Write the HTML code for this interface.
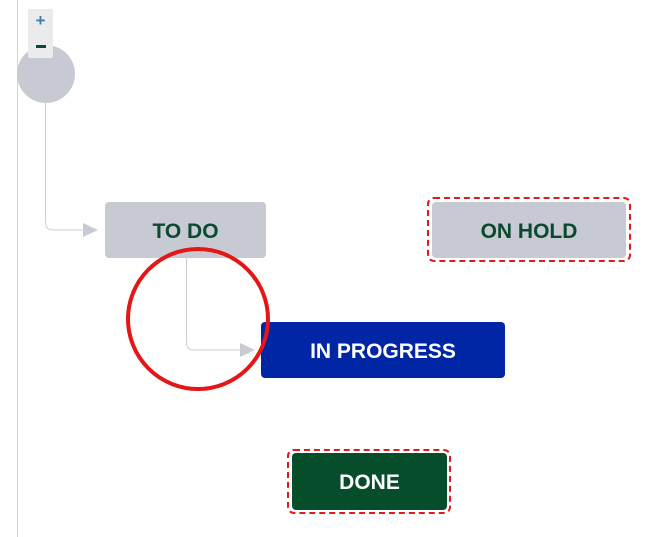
<!DOCTYPE html>
<html><head><style>
body{margin:0;width:652px;height:537px;background:#fff;overflow:hidden;position:relative;font-family:"Liberation Sans",Arial,sans-serif}
.n{position:absolute;display:flex;align-items:center;justify-content:center;font-weight:bold;font-size:21px;border-radius:4px;padding-top:3px;box-sizing:border-box}
.d{position:absolute;border:2px dashed #e01b1b;border-radius:7px}
</style></head><body>
<svg width="652" height="537" style="position:absolute;left:0;top:0">
<line x1="17.5" y1="0" x2="17.5" y2="537" stroke="#d5d5d8" stroke-width="1"/>
<circle cx="46" cy="74" r="29" fill="#c8cad3"/>
<path d="M45.5 103 V222 Q45.5 230 53 230 H84" fill="none" stroke="#ccced6" stroke-width="1"/>
<polygon points="83,223 98,230 83,237" fill="#c8cad3"/>
<path d="M186.5 258 V342 Q186.5 350 194 350 H241" fill="none" stroke="#ccced6" stroke-width="1"/>
<polygon points="240,343 255,350 240,357" fill="#c8cad3"/>
</svg>
<div style="position:absolute;left:28px;top:9px;width:25px;height:49px;background:#ebebee;border-radius:2px"></div>
<div style="position:absolute;left:28px;top:11px;width:25px;text-align:center;color:#4a7aa8;font-weight:bold;font-size:17px">+</div>
<div style="position:absolute;left:36px;top:45px;width:10px;height:3px;background:#0a4a2e"></div>
<div class="n" style="left:105px;top:202px;width:161px;height:56px;background:#c8cad3;color:#0a4a2e">TO DO</div>
<div class="d" style="left:427px;top:197px;width:200px;height:61px"></div>
<div class="n" style="left:432px;top:202px;width:194px;height:56px;background:#c8cad3;color:#0a4a2e">ON HOLD</div>
<div class="n" style="left:261px;top:322px;width:244px;height:56px;background:#0026a6;color:#fff">IN PROGRESS</div>
<div class="d" style="left:287px;top:449px;width:160px;height:61px"></div>
<div class="n" style="left:292px;top:453px;width:155px;height:57px;background:#064d2c;color:#fff">DONE</div>
<svg width="652" height="537" style="position:absolute;left:0;top:0">
<circle cx="198" cy="319" r="70" fill="none" stroke="#e41616" stroke-width="4"/>
</svg>
</body></html>
